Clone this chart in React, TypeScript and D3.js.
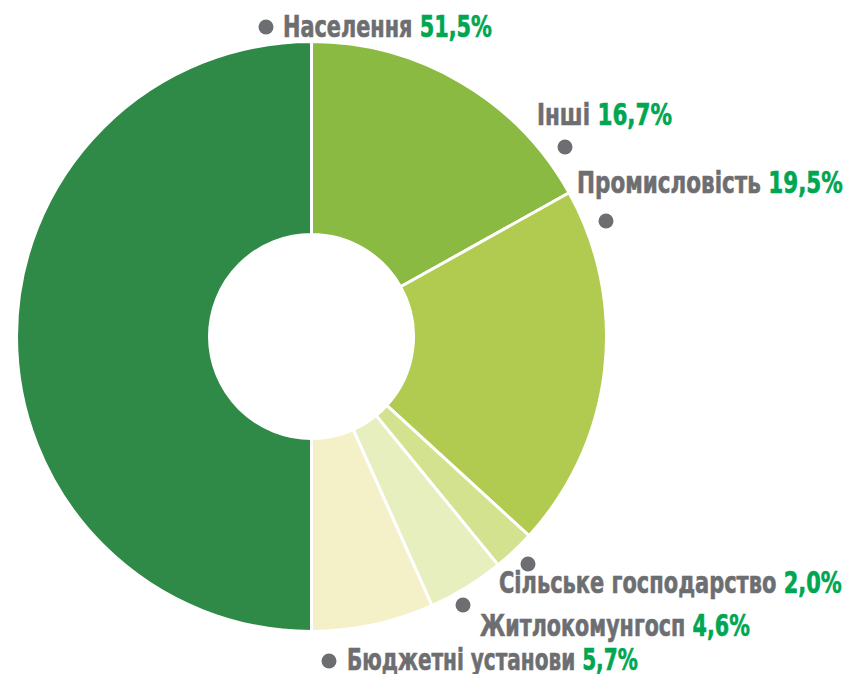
import React, { useRef, useEffect } from "react";
import * as d3 from "d3";

// categories clockwise from 12 o'clock
const categories = [
  "Інші",
  "Промисловість",
  "Сільське господарство",
  "Житлокомунгосп",
  "Бюджетні установи",
  "Населення",
];
// printed shares
const labelValues = ["16,7%", "19,5%", "2,0%", "4,6%", "5,7%", "51,5%"];
// arc sizes as drawn in the picture (the drawing gives Населення exactly half)
const sliceShare = [16.9, 19.9, 2.3, 4.2, 6.7, 50.0];
const sliceColors = ["#8aba42", "#b0cb50", "#d3e28e", "#e7efbf", "#f4f1c9", "#2f8a48"];

// label anchors: dot centre, text start / baseline, text end x
const labelLayout = [
  { dot: [565, 147], text: [537, 125], end: 672 },
  { dot: [606, 221], text: [577, 193], end: 843 },
  { dot: [528, 564], text: [499, 593], end: 842 },
  { dot: [463, 605], text: [480, 636], end: 750 },
  { dot: [329, 661], text: [347, 670], end: 638 },
  { dot: [266, 27], text: [283, 37], end: 492 },
];

const W = 852, H = 674;
const cx = 311.5, cy = 336.5, outerR = 295, innerR = 102;
const GRAY = "#6d6e71", GREEN = "#00a651";

const App = () => {
  const svgRef = useRef(null);

  useEffect(() => {
    document.body.style.margin = "0";
    const svg = d3.select(svgRef.current).attr("width", W).attr("height", H);
    svg.selectAll("*").remove();

    const data = categories.map((c, i) => ({ name: c, value: sliceShare[i], color: sliceColors[i] }));
    const pie = d3.pie().sort(null).value(d => d.value);
    const arc = d3.arc().innerRadius(innerR).outerRadius(outerR);

    svg.append("g")
      .attr("transform", `translate(${cx},${cy})`)
      .selectAll("path")
      .data(pie(data))
      .join("path")
      .attr("d", arc)
      .attr("fill", d => d.data.color)
      .attr("stroke", "#fff")
      .attr("stroke-width", 3)
      .attr("stroke-linejoin", "miter");

    const lg = svg.append("g")
      .style("font-family", "'DejaVu Sans Condensed', 'DejaVu Sans', sans-serif")
      .style("font-stretch", "condensed")
      .style("font-weight", "bold")
      .style("font-size", "30px");

    categories.forEach((c, i) => {
      const l = labelLayout[i];
      lg.append("circle")
        .attr("cx", l.dot[0]).attr("cy", l.dot[1]).attr("r", 7.5)
        .attr("fill", GRAY);
      const t = lg.append("text").attr("x", 0).attr("y", 0);
      t.append("tspan").attr("fill", GRAY).attr("stroke", GRAY).attr("stroke-width", 0.6).text(c + " ");
      t.append("tspan").attr("fill", GREEN).attr("stroke", GREEN).attr("stroke-width", 0.6).text(labelValues[i]);
      const len = t.node().getComputedTextLength();
      const s = len > 0 ? (l.end - l.text[0]) / len : 1;
      t.attr("transform", `translate(${l.text[0]},${l.text[1]}) scale(${s},1)`);
    });
  }, []);

  return <svg ref={svgRef} style={{ display: "block" }}></svg>;
};

export default App;
